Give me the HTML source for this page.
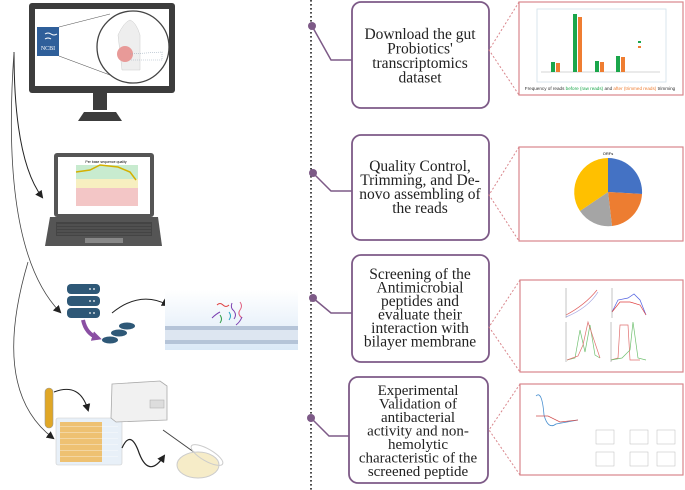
<!DOCTYPE html>
<html><head><meta charset="utf-8"><style>
html,body{margin:0;padding:0;background:#fff;width:685px;height:490px;overflow:hidden}
.t{font-family:"Liberation Serif",serif;font-size:15.5px;fill:#222;text-anchor:middle}
.t4{font-family:"Liberation Serif",serif;font-size:15px;fill:#222;text-anchor:middle}
</style></head><body>
<svg width="685" height="490" viewBox="0 0 685 490" xmlns="http://www.w3.org/2000/svg">
<defs>
<marker id="ah" markerWidth="8" markerHeight="8" refX="6" refY="4" orient="auto" markerUnits="userSpaceOnUse"><path d="M0,0 L8,4 L0,8 z" fill="#222"/></marker>
<marker id="ahp" markerWidth="10" markerHeight="10" refX="6" refY="5" orient="auto" markerUnits="userSpaceOnUse"><path d="M0,0 L10,5 L0,10 z" fill="#8a4fa3"/></marker>
<linearGradient id="mem" x1="0" y1="0" x2="0" y2="1"><stop offset="0" stop-color="#fff"/><stop offset="1" stop-color="#dbe9f7"/></linearGradient>
</defs>

<line x1="311" y1="0" x2="311" y2="490" stroke="#222" stroke-width="1.6" stroke-dasharray="1.6,2.4"/>

<g stroke="#7d5a87" stroke-width="1.5" fill="none">
<polyline points="312,26 331,60 352,60"/>
<polyline points="313,173 331,191 352,191"/>
<polyline points="313,298 331,313 352,313"/>
<polyline points="311,418 329,436 349,436"/>
</g>
<g fill="#7d5a87"><circle cx="312" cy="26" r="4"/><circle cx="313" cy="173" r="4"/><circle cx="313" cy="298" r="4"/><circle cx="311" cy="418" r="4"/></g>

<g fill="#fff" stroke="#7d5a87" stroke-width="1.8">
<rect x="352" y="2" width="137" height="106" rx="9"/>
<rect x="352" y="135" width="137" height="105" rx="9"/>
<rect x="352" y="255" width="137" height="107" rx="9"/>
<rect x="349" y="377" width="139" height="106" rx="9"/>
</g>
<text class="t"><tspan x="420" y="39">Download the gut</tspan><tspan x="420" y="53.5">Probiotics'</tspan><tspan x="420" y="68">transcriptomics</tspan><tspan x="420" y="82.5">dataset</tspan></text>
<text class="t"><tspan x="420" y="171">Quality Control,</tspan><tspan x="420" y="185">Trimming, and De-</tspan><tspan x="420" y="199">novo assembling of</tspan><tspan x="420" y="213">the reads</tspan></text>
<text class="t"><tspan x="420" y="279">Screening of the</tspan><tspan x="420" y="292.5">Antimicrobial</tspan><tspan x="420" y="306">peptides and</tspan><tspan x="420" y="319.5">evaluate their</tspan><tspan x="420" y="333">interaction with</tspan><tspan x="420" y="346.5">bilayer membrane</tspan></text>
<text class="t4"><tspan x="418" y="395">Experimental</tspan><tspan x="418" y="408.5">Validation of</tspan><tspan x="418" y="422">antibacterial</tspan><tspan x="418" y="435.5">activity and non-</tspan><tspan x="418" y="449">hemolytic</tspan><tspan x="418" y="462.5">characteristic of the</tspan><tspan x="418" y="476">screened peptide</tspan></text>

<g stroke="#d9868c" stroke-width="1" stroke-dasharray="2,2" fill="none">
<polyline points="519,2 489,50 519,95"/>
<polyline points="519,147 489,195 519,241"/>
<polyline points="520,280 489,327 520,372"/>
<polyline points="520,384 489,430 520,475"/>
</g>
<g fill="#fff" stroke="#d9868c" stroke-width="1.2">
<rect x="519" y="2" width="164" height="93"/>
<rect x="519" y="147" width="164" height="94"/>
<rect x="520" y="280" width="163" height="92"/>
<rect x="520" y="384" width="163" height="91"/>
</g>
<rect x="537" y="9" width="129" height="73" fill="none" stroke="#cfe0ea" stroke-width="0.8"/>
<line x1="541" y1="72" x2="660" y2="72" stroke="#aaa" stroke-width="0.5"/>
<g fill="#1aa64b"><rect x="551" y="62" width="4" height="10"/><rect x="573" y="14" width="4" height="58"/><rect x="595" y="61" width="4" height="11"/><rect x="616" y="56" width="4" height="16"/></g>
<g fill="#ef7d31"><rect x="556" y="63" width="4" height="9"/><rect x="578" y="17" width="4" height="55"/><rect x="600" y="62" width="4" height="10"/><rect x="621" y="57" width="4" height="15"/></g>
<rect x="638" y="41" width="3" height="2" fill="#1aa64b"/><rect x="638" y="46" width="3" height="2" fill="#ef7d31"/>
<text x="600" y="90" font-family="Liberation Sans,sans-serif" font-size="4.6" text-anchor="middle" fill="#333">Frequency of reads <tspan fill="#1aa64b">before (raw reads)</tspan> and <tspan fill="#ef7d31">after (trimmed reads)</tspan> trimming</text>
<g transform="translate(608,192)">
<path d="M0,0 L0,-34 A34,34 0 0 1 34,2 Z" fill="#4472c4"/>
<path d="M0,0 L34,2 A34,34 0 0 1 4,34 Z" fill="#ed7d31"/>
<path d="M0,0 L4,34 A34,34 0 0 1 -28,19 Z" fill="#a5a5a5"/>
<path d="M0,0 L-28,19 A34,34 0 0 1 0,-34 Z" fill="#ffc000"/>
</g>
<text x="608" y="155" font-family="Liberation Sans,sans-serif" font-size="4" text-anchor="middle">ORFs</text>
<g fill="none" stroke-width="0.7">
<path d="M566,315 Q585,305 597,290" stroke="#e06060"/><path d="M566,317 Q588,308 598,292" stroke="#a0a0e0"/>
<path d="M612,312 L618,300 L628,298 L634,294 L640,300 L646,315" stroke="#5060e0"/><path d="M612,312 L620,302 L630,302 L640,305 L646,315" stroke="#e04040"/>
<path d="M567,360 L575,358 L580,330 L585,352 L590,325 L595,355 L600,358" stroke="#70c070"/><path d="M567,360 L578,356 L583,345 L588,322 L594,340 L600,358" stroke="#e07070"/>
<path d="M611,360 L618,358 L620,325 L628,325 L630,360 L640,360" stroke="#e07070"/><path d="M611,360 L622,358 L630,350 L633,322 L638,358 L646,360" stroke="#70c070"/>
</g>
<g stroke="#888" stroke-width="0.5"><line x1="566" y1="288" x2="566" y2="318"/><line x1="612" y1="288" x2="612" y2="318"/><line x1="566" y1="322" x2="566" y2="362"/><line x1="611" y1="322" x2="611" y2="362"/></g>
<g fill="none" stroke-width="0.8">
<path d="M536,396 Q542,390 544,415 Q548,430 556,424 L578,420" stroke="#4a90d0"/>
<path d="M536,416 L548,416 L560,422 L578,420" stroke="#d05050"/>
</g>
<g stroke="#bbb" stroke-width="0.5" fill="none"><rect x="596" y="430" width="18" height="14"/><rect x="630" y="430" width="18" height="14"/><rect x="657" y="430" width="18" height="14"/><rect x="596" y="452" width="18" height="14"/><rect x="630" y="452" width="18" height="14"/><rect x="657" y="452" width="18" height="14"/></g>

<rect x="29" y="3" width="146" height="90" rx="3" fill="#3c3c3c"/>
<rect x="35" y="9" width="134" height="77" fill="#fff"/>
<rect x="93" y="93" width="14" height="17" fill="#3c3c3c"/>
<path d="M78,121 L84,112 L116,112 L122,121 Z" fill="#3c3c3c"/>
<rect x="37" y="27" width="22" height="29" fill="#2f5f9a"/>
<text x="48" y="50" font-family="Liberation Serif,serif" font-size="6" fill="#fff" text-anchor="middle">NCBI</text>
<path d="M45,34 q3,-2 6,0 q3,2 6,0 M45,39 q3,-2 6,0" stroke="#fff" stroke-width="1" fill="none"/>
<line x1="59" y1="27" x2="110" y2="14" stroke="#555" stroke-width="0.6"/><line x1="59" y1="56" x2="118" y2="78" stroke="#555" stroke-width="0.6"/>
<circle cx="133" cy="47" r="36" fill="#fff" stroke="#444" stroke-width="1.3"/>
<path d="M118,35 Q124,22 130,20 Q136,22 140,35 L140,70 L122,70 Z" fill="#eee" stroke="#ccc" stroke-width="0.5"/>
<ellipse cx="125" cy="54" rx="8" ry="8" fill="#e89a98"/>
<path d="M130,54 L162,52 L162,60 L130,60" fill="none" stroke="#9ab" stroke-width="0.6" stroke-dasharray="1,1"/>
<rect x="54" y="153" width="100" height="64" rx="3" fill="#555"/>
<rect x="58" y="157" width="92" height="57" fill="#fff"/>
<rect x="76" y="165" width="62" height="14" fill="#c8ebcf"/><rect x="76" y="179" width="62" height="9" fill="#f7efc0"/><rect x="76" y="188" width="62" height="18" fill="#f3c6c6"/>
<path d="M76,172 L90,170 L100,165 L118,167 L130,172 L136,180" stroke="#d4b000" stroke-width="1.5" fill="none"/>
<text x="106" y="163" font-family="Liberation Sans,sans-serif" font-size="3.5" text-anchor="middle">Per base sequence quality</text>
<path d="M50,217 L158,217 L162,246 L45,246 Z" fill="#555"/>
<rect x="56" y="222" width="96" height="14" fill="#444"/>
<g stroke="#777" stroke-width="0.6"><line x1="57" y1="225" x2="151" y2="225"/><line x1="57" y1="228" x2="151" y2="228"/><line x1="57" y1="231" x2="151" y2="231"/><line x1="57" y1="234" x2="151" y2="234"/></g>
<rect x="85" y="238" width="38" height="5" fill="#888"/>
<g fill="#2e5877"><rect x="67" y="284" width="33" height="10" rx="4"/><rect x="67" y="296" width="33" height="10" rx="4"/><rect x="67" y="308" width="33" height="10" rx="4"/></g>
<g fill="#fff"><circle cx="90" cy="289" r="0.9"/><circle cx="94" cy="289" r="0.9"/><circle cx="90" cy="301" r="0.9"/><circle cx="94" cy="301" r="0.9"/><circle cx="90" cy="313" r="0.9"/><circle cx="94" cy="313" r="0.9"/></g>
<path d="M83,320 Q86,334 98,338" stroke="#8a4fa3" stroke-width="4" fill="none" marker-end="url(#ahp)"/>
<g fill="#2e5877"><ellipse cx="110" cy="340" rx="8" ry="3.5"/><ellipse cx="119" cy="333" rx="8" ry="3.5"/><ellipse cx="127" cy="326" rx="8" ry="3.5"/></g>
<path d="M112,313 Q140,290 168,305" stroke="#222" stroke-width="1" fill="none" marker-end="url(#ah)"/>
<rect x="165" y="290" width="133" height="60" fill="url(#mem)"/>
<rect x="165" y="326" width="133" height="4" fill="#b5c4d8"/><rect x="165" y="330" width="133" height="10" fill="#dde6f1"/><rect x="165" y="340" width="133" height="4" fill="#b5c4d8"/>
<g fill="none" stroke-width="1"><path d="M217,305 q3,-3 6,0 q3,3 6,0" stroke="#e04040"/><path d="M232,303 q-2,5 2,8 q3,4 0,8" stroke="#7a3fb0"/><path d="M240,302 q3,4 0,8 q-3,4 2,8" stroke="#e06080"/><path d="M220,323 q3,-4 0,-8" stroke="#2a9a40"/><path d="M229,312 q3,4 0,8" stroke="#20a0c0"/><path d="M236,325 q4,-3 6,-8" stroke="#7a3fb0"/><path d="M212,318 q4,-4 8,-6" stroke="#7a3fb0"/></g>
<rect x="45" y="388" width="8" height="40" rx="4" fill="#e0a726" stroke="#999" stroke-width="0.6"/>
<rect x="56" y="418" width="66" height="47" rx="2" fill="#e8f0f8" stroke="#ccc" stroke-width="0.6"/>
<rect x="60" y="422" width="42" height="40" fill="#efb85a" opacity="0.85"/>
<g fill="#fff" opacity="0.35"><rect x="60" y="426" width="58" height="1"/><rect x="60" y="432" width="58" height="1"/><rect x="60" y="438" width="58" height="1"/><rect x="60" y="444" width="58" height="1"/><rect x="60" y="450" width="58" height="1"/><rect x="60" y="456" width="58" height="1"/></g>
<path d="M112,384 L160,381 L167,386 L167,420 L116,422 L111,418 Z" fill="#f1f1f1" stroke="#aaa" stroke-width="0.8"/>
<rect x="150" y="400" width="14" height="8" fill="#ddd" stroke="#aaa" stroke-width="0.5"/>
<line x1="163" y1="430" x2="205" y2="460" stroke="#444" stroke-width="1"/>
<ellipse cx="198" cy="465" rx="21" ry="13" fill="#f6ecc8" stroke="#ccc"/>
<ellipse cx="207" cy="455" rx="18" ry="6" transform="rotate(30 207 455)" fill="none" stroke="#ccc"/>
<path d="M54,392 Q80,382 88,410" stroke="#222" stroke-width="1" fill="none" marker-end="url(#ah)"/>
<path d="M122,448 Q130,430 138,450 Q148,480 164,456" stroke="#222" stroke-width="1.2" fill="none" marker-end="url(#ah)"/>
<path d="M14,52 Q14,160 42,197" stroke="#222" stroke-width="1" fill="none" marker-end="url(#ah)"/>
<path d="M14,52 Q0,250 60,312" stroke="#444" stroke-width="0.8" fill="none" marker-end="url(#ah)"/>
<path d="M28,262 Q-10,390 53,438" stroke="#444" stroke-width="0.8" fill="none" marker-end="url(#ah)"/>
</svg>
</body></html>
